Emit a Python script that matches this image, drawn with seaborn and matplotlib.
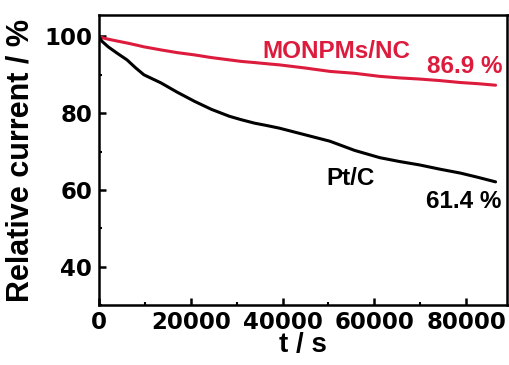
import matplotlib
matplotlib.use("Agg")
import matplotlib.pyplot as plt
from matplotlib.ticker import MultipleLocator
import seaborn as sns
import pandas as pd

# ---- data ----
time_s = [0, 600, 2000, 4000, 6100, 8000, 9800, 13500, 17000, 20800, 24500,
          28400, 31000, 33900, 36500, 39300, 44800, 50300, 55700, 61200,
          65500, 69900, 74300, 78700, 82500, 86400]
ptc = [100, 98.8, 97.3, 95.6, 93.9, 91.8, 90.0, 87.9, 85.5, 83.1, 81.0,
       79.2, 78.3, 77.4, 76.8, 76.1, 74.4, 72.7, 70.3, 68.4,
       67.4, 66.5, 65.4, 64.4, 63.3, 62.1]
monpms = [100, 99.7, 99.3, 98.8, 98.3, 97.8, 97.3, 96.5, 95.8, 95.2, 94.5,
          93.9, 93.5, 93.2, 92.9, 92.6, 91.8, 90.9, 90.4, 89.6,
          89.2, 88.9, 88.5, 88.0, 87.7, 87.3]
series_names = ["MONPMs/NC", "Pt/C"]
final_labels = ["86.9 %", "61.4 %"]
xticks = [0, 20000, 40000, 60000, 80000]
yticks = [40, 60, 80, 100]

RED = "#DC1B3D"

sns.set_style("ticks")
plt.rcParams["font.family"] = ["DejaVu Sans"]
plt.rcParams["text.color"] = "black"
plt.rcParams["xtick.color"] = "black"
plt.rcParams["ytick.color"] = "black"
plt.rcParams["axes.labelcolor"] = "black"

df = pd.DataFrame({
    "t": time_s * 2,
    "I": monpms + ptc,
    "s": [series_names[0]] * len(time_s) + [series_names[1]] * len(time_s),
})

fig = plt.figure(figsize=(5.09, 3.65), dpi=100)
ax = fig.add_axes([99 / 509, 1 - 305 / 365, 408.5 / 509, 290 / 365])

sns.lineplot(data=df, x="t", y="I", hue="s",
             palette={series_names[0]: RED, series_names[1]: "black"},
             linewidth=2.2, legend=False, ax=ax)

ax.set_xlim(0, 89000)
ax.set_ylim(30, 105.6)
ax.set_xticks(xticks)
ax.set_yticks(yticks)
ax.xaxis.set_minor_locator(MultipleLocator(10000))
ax.yaxis.set_minor_locator(MultipleLocator(10))

for sp in ax.spines.values():
    sp.set_visible(True)
    sp.set_linewidth(1.8)
    sp.set_color("black")

ax.tick_params(which="major", direction="in", length=5, width=1.8,
               labelsize=16.5, pad=5, top=False, right=False,
               color="black", labelcolor="black")
ax.tick_params(axis="x", which="major", pad=4)
ax.tick_params(which="minor", direction="in", length=2.5, width=1.5,
               top=False, right=False, color="black")
for lab in ax.get_xticklabels() + ax.get_yticklabels():
    lab.set_fontweight("bold")
    lab.set_family("DejaVu Sans")

ax.set_xlabel("t / s", labelpad=-1, color="black",
              family="Liberation Sans", weight="bold", size=20)
ax.set_ylabel("Relative current / %", labelpad=6, color="black",
              family="Liberation Sans", weight="bold", size=22)

txt_font = dict(family="Liberation Sans", weight="bold", size=17.5)
ax.text(51800, 94.4, series_names[0], color=RED, ha="center", va="baseline", **txt_font)
ax.text(79600, 90.6, final_labels[0], color=RED, ha="center", va="baseline", **txt_font)
ax.text(54800, 61.4, series_names[1], color="black", ha="center", va="baseline", **txt_font)
ax.text(79400, 55.3, final_labels[1], color="black", ha="center", va="baseline", **txt_font)

fig.savefig("out.png", dpi=100)
